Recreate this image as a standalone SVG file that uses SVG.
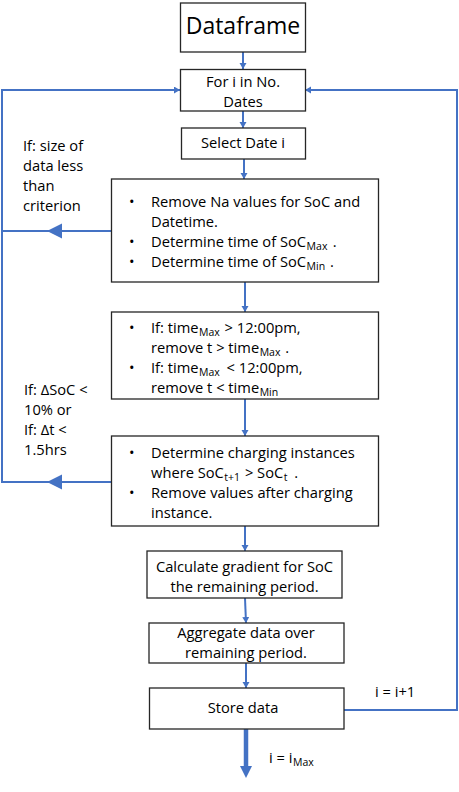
<svg xmlns="http://www.w3.org/2000/svg" width="459" height="792" viewBox="0 0 459 792">
<style>
.box{fill:#fff;stroke:#262626;stroke-width:1.3}
.t{font-family:"Open Sans","Noto Sans",sans-serif;font-size:14.7px;fill:#000}
.c{text-anchor:middle}
.sub{font-size:10.5px}
.ln{fill:none;stroke:#4472C4;stroke-width:2}
.ah{fill:#4472C4}
</style>
<defs>
<marker id="arr" markerUnits="userSpaceOnUse" markerWidth="8" markerHeight="8" refX="6" refY="3.5" orient="auto">
<path d="M0,0 L6,3.5 L0,7 Z" fill="#4472C4"/>
</marker>
</defs>
<g id="connectors">
<path class="ln" d="M243,52 V69" marker-end="url(#arr)"/>
<path class="ln" d="M243,111 V128" marker-end="url(#arr)"/>
<path class="ln" d="M244,159 V179" marker-end="url(#arr)"/>
<path class="ln" d="M245,282 V312" marker-end="url(#arr)"/>
<path class="ln" d="M245,399 V436" marker-end="url(#arr)"/>
<path class="ln" d="M245,526 V551" marker-end="url(#arr)"/>
<path class="ln" d="M245,598 L246,623" marker-end="url(#arr)"/>
<path class="ln" d="M246,663 V688" marker-end="url(#arr)"/>
<path class="ln" d="M111,231 H2 V90 H180" marker-end="url(#arr)"/>
<polygon class="ah" points="47,231 62,223.5 62,238.5"/>
<path class="ln" d="M111,482 H2 V90"/>
<polygon class="ah" points="47,482 62,474.5 62,489.5"/>
<path class="ln" d="M344,710 H457 V90 H305" marker-end="url(#arr)"/>
<path fill="none" stroke="#4472C4" stroke-width="4.5" d="M246,729 V767"/>
<polygon class="ah" points="240,766 252,766 246,778"/>
<text class="t" x="23" y="151">If: size of</text>
<text class="t" x="23" y="171">data less</text>
<text class="t" x="23" y="191">than</text>
<text class="t" x="23" y="211">criterion</text>
<text class="t" x="24" y="395">If: ΔSoC &lt;</text>
<text class="t" x="24" y="415">10% or</text>
<text class="t" x="24" y="435">If: Δt &lt;</text>
<text class="t" x="24" y="455">1.5hrs</text>
<text class="t" x="375" y="697">i = i+1</text>
<text class="t" x="269" y="763">i = i<tspan class="sub" dx="0.5" dy="3">Max</tspan></text>
</g>
<g id="n-dataframe">
<rect class="box" x="180.5" y="3" width="125" height="49"/>
<text class="t c" x="243" y="34" style="font-size:23px">Dataframe</text>
</g>
<g id="n-for">
<rect class="box" x="180.5" y="69.5" width="125" height="41.5"/>
<text class="t c" x="243" y="87">For i in No.</text>
<text class="t c" x="243" y="107">Dates</text>
</g>
<g id="n-select">
<rect class="box" x="181.5" y="128" width="124" height="31"/>
<text class="t c" x="243" y="148">Select Date i</text>
</g>
<g id="n-remove">
<rect class="box" x="111.5" y="179" width="267" height="103"/>
<text class="t" x="129" y="207">•</text>
<text class="t" x="151" y="207">Remove Na values for SoC and</text>
<text class="t" x="151" y="227">Datetime.</text>
<text class="t" x="129" y="247">•</text>
<text class="t" x="151" y="247">Determine time of SoC<tspan class="sub" dx="0.5" dy="3">Max</tspan><tspan dx="1.5" dy="-3"> .</tspan></text>
<text class="t" x="129" y="267">•</text>
<text class="t" x="151" y="267">Determine time of SoC<tspan class="sub" dx="0.5" dy="3">Min</tspan><tspan dx="1" dy="-3"> .</tspan></text>
</g>
<g id="n-filter">
<rect class="box" x="111.5" y="312" width="267" height="87"/>
<text class="t" x="129" y="333">•</text>
<text class="t" x="151" y="333">If: time<tspan class="sub" dx="0.5" dy="3">Max</tspan><tspan dx="1" dy="-3"> &gt; 12:00pm,</tspan></text>
<text class="t" x="151" y="353">remove t &gt; time<tspan class="sub" dx="0.5" dy="3">Max</tspan><tspan dx="1" dy="-3"> .</tspan></text>
<text class="t" x="129" y="373">•</text>
<text class="t" x="151" y="373">If: time<tspan class="sub" dx="0.5" dy="3">Max</tspan><tspan dx="3" dy="-3"> &lt; 12:00pm,</tspan></text>
<text class="t" x="151" y="393">remove t &lt; time<tspan class="sub" dx="0.5" dy="3">Min</tspan></text>
</g>
<g id="n-charging">
<rect class="box" x="111.5" y="436" width="267" height="90"/>
<text class="t" x="129" y="458">•</text>
<text class="t" x="151" y="458">Determine charging instances</text>
<text class="t" x="151" y="478">where SoC<tspan class="sub" dx="0.5" dy="3">t+1</tspan><tspan dx="1" dy="-3"> &gt; SoC</tspan><tspan class="sub" dx="0.5" dy="3">t</tspan><tspan dx="3" dy="-3"> .</tspan></text>
<text class="t" x="129" y="498">•</text>
<text class="t" x="151" y="498">Remove values after charging</text>
<text class="t" x="151" y="518">instance.</text>
</g>
<g id="n-gradient">
<rect class="box" x="147" y="551" width="195" height="47"/>
<text class="t c" x="244.5" y="572">Calculate gradient for SoC</text>
<text class="t c" x="244.5" y="592">the remaining period.</text>
</g>
<g id="n-aggregate">
<rect class="box" x="149" y="623" width="195" height="40"/>
<text class="t c" x="246" y="638">Aggregate data over</text>
<text class="t c" x="246" y="658">remaining period.</text>
</g>
<g id="n-store">
<rect class="box" x="149.5" y="688" width="194.5" height="41"/>
<text class="t c" x="243" y="713">Store data</text>
</g>
</svg>
